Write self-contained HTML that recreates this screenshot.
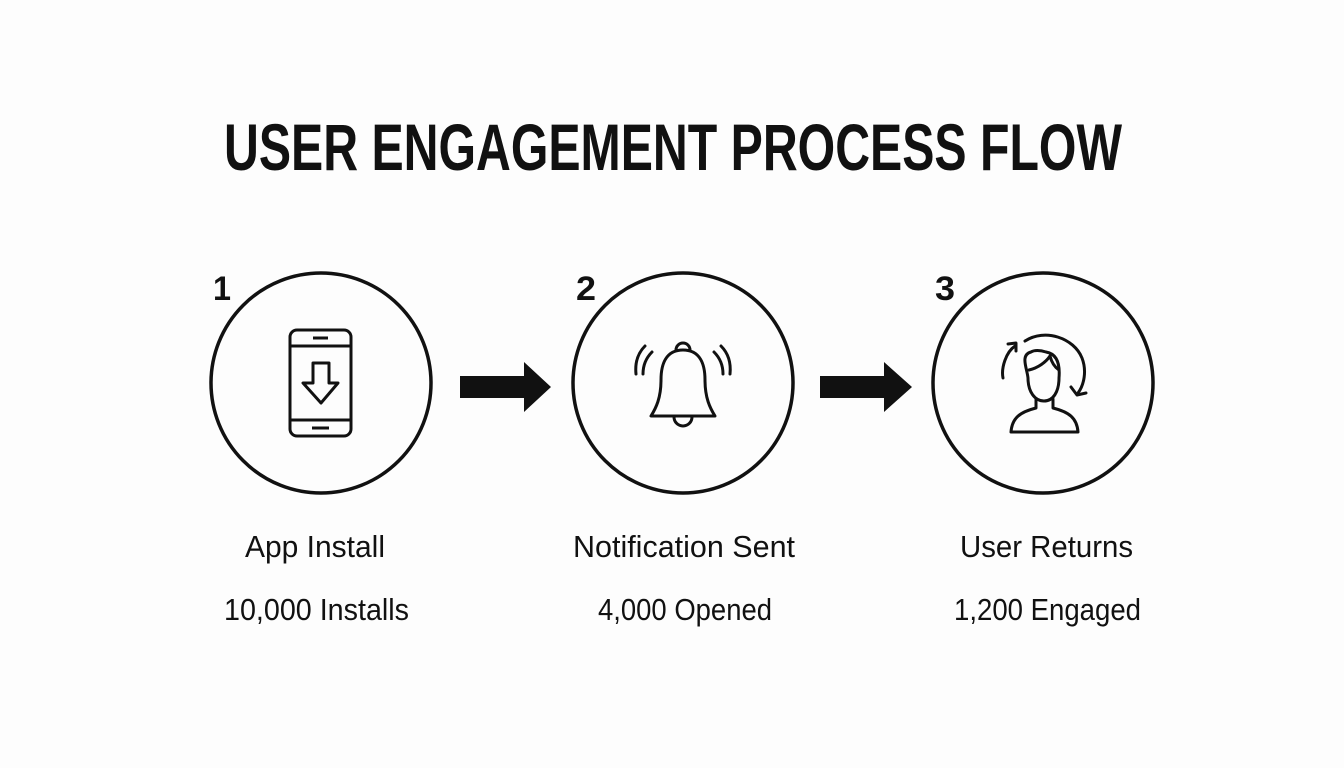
<!DOCTYPE html>
<html><head><meta charset="utf-8"><style>
html,body{margin:0;padding:0;background:#fdfdfd;}
svg{display:block;}
text{font-family:"Liberation Sans",Arial,sans-serif;fill:#111;}
</style></head><body>
<svg width="1344" height="768" viewBox="0 0 1344 768">
<rect width="1344" height="768" fill="#fdfdfd"/>
<text x="224" y="170" font-size="66" font-weight="bold" textLength="898" lengthAdjust="spacingAndGlyphs">USER ENGAGEMENT PROCESS FLOW</text>

<g fill="none" stroke="#111" stroke-width="3.5">
<circle cx="321" cy="383" r="110"/>
<circle cx="683" cy="383" r="110"/>
<circle cx="1043" cy="383" r="110"/>
</g>
<text x="213" y="300" font-size="34" font-weight="bold" textLength="18" lengthAdjust="spacingAndGlyphs">1</text>
<text x="576" y="300" font-size="34" font-weight="bold" textLength="20" lengthAdjust="spacingAndGlyphs">2</text>
<text x="935" y="300" font-size="34" font-weight="bold" textLength="20" lengthAdjust="spacingAndGlyphs">3</text>

<!-- arrows -->
<polygon points="460,376 524,376 524,362 551,387 524,412 524,398 460,398" fill="#111"/>
<polygon points="820,376 884,376 884,362 912,387 884,412 884,398 820,398" fill="#111"/>

<!-- phone icon -->
<g fill="none" stroke="#111" stroke-width="3" stroke-linejoin="round">
<rect x="290" y="330" width="61" height="106" rx="7"/>
<line x1="290" y1="346" x2="351" y2="346"/>
<line x1="290" y1="420" x2="351" y2="420"/>
<line x1="313" y1="338" x2="328" y2="338"/>
<line x1="312" y1="428" x2="329" y2="428"/>
<polygon points="313,363 329,363 329,383 338,383 321,403 303,383 313,383"/>
</g>

<!-- bell icon -->
<g fill="none" stroke="#111" stroke-width="3" stroke-linecap="round" stroke-linejoin="round">
<path d="M683,350 C666,350 661,364 661,380 C661,398 656,408 651,416 L715,416 C710,408 705,398 705,380 C705,364 700,350 683,350 Z"/>
<path d="M676,350 a7,7 0 0 1 14,0"/>
<path d="M674,417 a9,9 0 0 0 18,0"/>
<path d="M652,352 C646,358 643,366 643,374"/>
<path d="M645,346 C637,354 635,364 636,374"/>
<path d="M714,352 C720,358 723,366 723,374"/>
<path d="M721,346 C729,354 731,364 730,374"/>
</g>

<!-- user returns icon -->
<g fill="none" stroke="#111" stroke-width="3" stroke-linecap="round" stroke-linejoin="round">
<path d="M1031,352 C1020,355 1027,368 1028,378 C1028,392 1035,401 1044,401 C1053,401 1059,392 1059,378 C1060,366 1058,354 1046,352 C1040,350 1034,350 1031,352 Z"/>
<path d="M1029,370 C1038,368 1046,362 1050,356 C1052,364 1056,368 1059,370"/>
<path d="M1036,399 L1036,408 C1020,412 1012,418 1011,432 L1078,432 C1077,418 1069,412 1053,408 L1053,399"/>
<path d="M1025,341 C1045,328 1074,338 1082,358 C1087,371 1084,385 1078,393"/>
<polyline points="1071,387 1077,395 1086,393"/>
<path d="M1003,378 C1001,368 1006,352 1015,346"/>
<polyline points="1008,344 1016,343 1016,351"/>
</g>

<g font-size="31">
<text x="245" y="557" textLength="140" lengthAdjust="spacingAndGlyphs">App Install</text>
<text x="573" y="557" textLength="222" lengthAdjust="spacingAndGlyphs">Notification Sent</text>
<text x="960" y="557" textLength="173" lengthAdjust="spacingAndGlyphs">User Returns</text>
<text x="224" y="620" textLength="185" lengthAdjust="spacingAndGlyphs">10,000 Installs</text>
<text x="598" y="620" textLength="174" lengthAdjust="spacingAndGlyphs">4,000 Opened</text>
<text x="954" y="620" textLength="187" lengthAdjust="spacingAndGlyphs">1,200 Engaged</text>
</g>
</svg>
</body></html>
